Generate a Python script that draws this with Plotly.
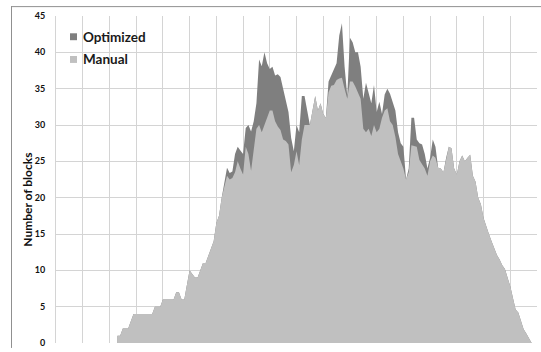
import plotly.graph_objects as go

# x positions (category index), one point per slot
x_index = list(range(23, 179))

manual = [
    1, 1, 2, 2, 2, 3, 4, 4, 4, 4, 4, 4, 4, 4, 5, 5, 5, 6, 6, 6,      # 23-42
    6, 6, 7, 7, 6, 6, 8, 10, 9.5, 9, 9, 10, 11, 11, 12, 13, 14, 16.5, 17.5, 20,  # 43-62
    21.5, 23, 22.5, 22.7, 23.5, 25, 24, 23.2, 27, 26, 23.7, 27, 29.5, 30, 29, 30, 31, 32, 32, 30.5,  # 63-82
    29.8, 29.3, 28, 27.8, 27.3, 23.5, 24.5, 26.4, 24.5, 28, 30, 30, 30, 32, 34, 32, 33, 31.5, 31, 34.5,  # 83-102
    35.4, 35.5, 36.2, 36.4, 36.5, 35, 33.6, 36, 36, 35.3, 34.5, 33.6, 29.5, 29, 29.5, 28.5, 30, 29, 29.5, 31,  # 103-122
    32, 32.3, 30.5, 30, 28.4, 26, 25, 24, 22.5, 23.5, 27.2, 27.1, 27, 25.2, 24.5, 24, 23, 25, 25.8, 25.5,  # 123-142
    24.1, 24, 23.5, 25.5, 27, 26.8, 24, 23.2, 25, 25.8, 25, 25.5, 25.9, 23, 22.2, 20, 19.1, 17.2, 16, 15,  # 143-162
    14, 12.9, 12.1, 11.5, 10.7, 10.2, 9, 7.8, 6.2, 4.6, 4.2, 3, 1.9, 1.3, 0.6, 0,  # 163-178
]

optimized = [
    1, 1, 2, 2, 2, 3, 4, 4, 4, 4, 4, 4, 4, 4, 5, 5, 5, 6, 6, 6,      # 23-42
    6, 6, 7, 7, 6, 6, 8, 10, 9.5, 9, 9, 10, 11, 11, 12, 13, 14, 16.5, 17.5, 20,  # 43-62
    22, 24.1, 23.4, 23.6, 26, 27, 26.5, 26, 29.6, 30, 29.1, 30.5, 33, 39, 38.1, 40, 38.5, 37.7, 38, 36.8,  # 63-82
    37, 36.6, 35, 33.6, 31.8, 28.2, 26.4, 30, 29, 34, 34, 32, 30, 32, 34, 32, 33, 31.5, 31, 36,  # 83-102
    36.8, 37.5, 38.5, 42.3, 44, 38, 34, 42, 41.4, 40, 40, 38, 33.6, 35.8, 34.5, 33, 35.5, 31.8, 33.2, 31.5,  # 103-122
    34.2, 35, 34.3, 33, 32, 29, 27.5, 27, 22.5, 24, 31, 31, 28, 27.5, 27.3, 26, 24, 25.5, 28, 27,  # 123-142
    24.1, 24, 23.5, 25.5, 27, 26.8, 24, 23.2, 25, 25.8, 25, 25.5, 25.9, 23, 22.2, 20, 19.1, 17.2, 16, 15,  # 143-162
    14, 12.9, 12.1, 11.5, 10.7, 10.2, 9, 7.8, 6.2, 4.6, 4.2, 3, 1.9, 1.3, 0.6, 0,  # 163-178
]

series_names = ["Optimized", "Manual"]
series_colors = ["#7f7f7f", "#c0c0c0"]
y_ticks = [0, 5, 10, 15, 20, 25, 30, 35, 40, 45]
y_title = "Number of blocks"

W, H = 541, 352
L, R, T, B = 56, 4, 16, 5
pw, ph = W - L - R, H - T - B


def px2x(px):
    return (px - L) / pw


def py2y(py):
    return (H - B - py) / ph


fig = go.Figure()
for name, vals, col in zip(series_names, [optimized, manual], series_colors):
    fig.add_trace(go.Scatter(
        x=x_index, y=vals, name=name, mode="lines",
        line=dict(width=0, color=col), fill="tozeroy", fillcolor=col,
        showlegend=False, hoverinfo="skip",
    ))

fig.update_layout(
    width=W, height=H,
    margin=dict(l=L, r=R, t=T, b=B),
    paper_bgcolor="white", plot_bgcolor="white",
    font=dict(family="Lato, 'Open Sans', sans-serif", color="#1a1a1a"),
    showlegend=False,
)
fig.update_xaxes(
    range=[0, 180], tick0=0, dtick=10, showticklabels=False,
    showgrid=True, gridcolor="#d4d4d4", gridwidth=1, zeroline=False,
    showline=False, ticks="",
)
fig.update_yaxes(
    range=[0, 45], tickvals=y_ticks, showgrid=True, gridcolor="#d4d4d4",
    gridwidth=1, zeroline=False, showline=True, linecolor="#d4d4d4",
    ticks="", ticklabelstandoff=8, ticklabeloverflow="allow",
    tickfont=dict(family="Lato", size=9, color="#111111", weight="bold"),
)

# outer chart-area border (top and left edges; the rest lies outside the view)
border = dict(color="#909090", width=1)
fig.add_shape(type="line", xref="paper", yref="paper",
              x0=px2x(11), x1=px2x(541), y0=py2y(6.5), y1=py2y(6.5), line=border)
fig.add_shape(type="line", xref="paper", yref="paper",
              x0=px2x(11.5), x1=px2x(11.5), y0=py2y(6), y1=py2y(352), line=border)

# y-axis title
fig.add_annotation(text="<b>" + y_title + "</b>", xref="paper", yref="paper",
                   x=px2x(28), y=py2y(202), textangle=-90, showarrow=False,
                   font=dict(family="Lato", size=12, color="#111111"),
                   xanchor="center", yanchor="middle")

# legend (squares + labels)
for name, col, cy in zip(series_names, series_colors, [37, 60]):
    fig.add_shape(type="rect", xref="paper", yref="paper",
                  x0=px2x(70), x1=px2x(77), y0=py2y(cy + 3.5), y1=py2y(cy - 3.5),
                  line=dict(width=0), fillcolor=col)
    fig.add_annotation(text="<b>" + name + "</b>", xref="paper", yref="paper",
                       x=px2x(81), y=py2y(cy), showarrow=False,
                       xanchor="left", yanchor="middle",
                       font=dict(family="Lato", size=13.5, color="#1a1a1a"))

fig.write_html("out.html")
